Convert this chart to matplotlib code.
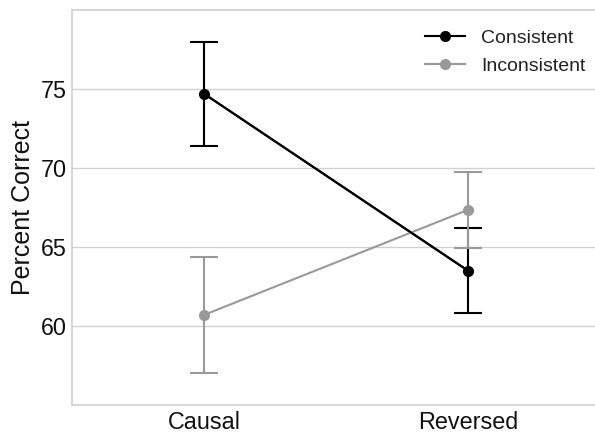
import matplotlib
matplotlib.use("Agg")
import matplotlib.pyplot as plt
from matplotlib.lines import Line2D

plt.rcParams['font.family'] = ['Liberation Sans', 'DejaVu Sans']

categories = ["Causal", "Reversed"]
series_names = ["Consistent", "Inconsistent"]
consistent_mean = [74.7, 63.5]
consistent_err = [3.3, 2.7]
inconsistent_mean = [60.7, 67.35]
inconsistent_err = [3.65, 2.4]
yticks = [60, 65, 70, 75]
colors = ['black', '#999999']

fig = plt.figure(figsize=(5.95, 4.33), dpi=100)
ax = fig.add_axes([72/595, 28/433, 528/595, 395/433])

x = list(range(len(categories)))
ax.errorbar(x, inconsistent_mean, yerr=inconsistent_err, color=colors[1], lw=1.5,
            marker='o', ms=7, capsize=10, capthick=1.5, zorder=3)
ax.errorbar(x, consistent_mean, yerr=consistent_err, color=colors[0], lw=1.5,
            marker='o', ms=7, capsize=10, capthick=1.5, zorder=2)
ax.plot(x, consistent_mean, color=colors[0], lw=1.5, zorder=4)

ax.set_xlim(-0.5, 1.5)
ax.set_ylim(55, 80)
ax.set_xticks(x)
ax.set_xticklabels(categories, fontsize=16.8)
ax.set_yticks(yticks)
ax.set_yticklabels([str(t) for t in yticks], fontsize=16.8)
ax.tick_params(axis='x', length=0, pad=4.3, colors='#111111')
ax.tick_params(axis='y', length=0, pad=3.8, colors='#111111')
ax.set_ylabel("Percent Correct", fontsize=18, color='#111111', labelpad=4.1)
ax.grid(axis='y', color='#d0d0d0', lw=1)
ax.set_axisbelow(True)
for s in ax.spines.values():
    s.set_color('#d0d0d0')
    s.set_linewidth(1.2)

handles = [Line2D([], [], color=c, lw=1.5, marker='o', ms=7) for c in colors]
ax.legend(handles, series_names, loc='upper left',
          bbox_to_anchor=(0.6354, 0.9957), frameon=False, fontsize=14,
          handlelength=2.06, labelspacing=0.55, handletextpad=0.82,
          labelcolor='#222222')

fig.savefig("out.png", dpi=100)
